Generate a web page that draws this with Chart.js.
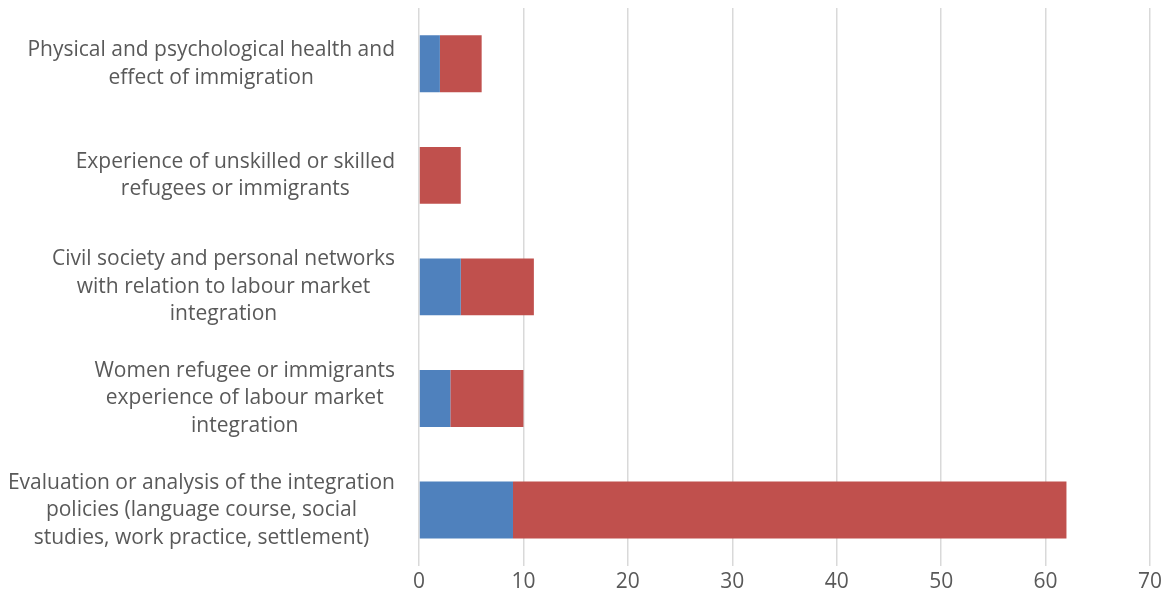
<!DOCTYPE html>
<html>
<head>
<meta charset="utf-8">
<script src="https://cdn.jsdelivr.net/npm/chart.js@4"></script>
<style>
  html, body { margin: 0; padding: 0; background: #fff; }
  #wrap { width: 1168px; height: 608px; }
</style>
</head>
<body>
<div id="wrap"><canvas id="c"></canvas></div>
<script>
const categories = [
  ["Physical and psychological health and", "effect of immigration"],
  ["Experience of unskilled or skilled", "refugees or immigrants"],
  ["Civil society and personal networks", "with relation to labour market", "integration"],
  ["Women refugee or immigrants", "experience of labour market", "integration"],
  ["Evaluation or analysis of the integration", "policies (language course, social", "studies, work practice, settlement)"]
];
const seriesBlue = [2, 0, 4, 3, 9];
const seriesRed = [4, 4, 7, 7, 53];
const xTicks = [0, 10, 20, 30, 40, 50, 60, 70];

const FONT = '"Open Sans", Lato, sans-serif';
const FONT_SIZE = 21;
const TEXT_COLOR = '#595959';

const labelPlugin = {
  id: 'blockLabels',
  afterDraw(chart) {
    const ctx = chart.ctx;
    const y = chart.scales.y;
    const rightEdge = chart.chartArea.left - 24;
    const lh = 27.5;
    ctx.save();
    ctx.font = FONT_SIZE + 'px ' + FONT;
    ctx.fillStyle = TEXT_COLOR;
    ctx.textBaseline = 'middle';
    ctx.textAlign = 'center';
    categories.forEach((lines, i) => {
      const cy = y.getPixelForValue(i);
      const widest = Math.max(...lines.map(l => ctx.measureText(l).width));
      const cx = rightEdge - widest / 2;
      const top = cy - (lines.length - 1) * lh / 2;
      lines.forEach((l, j) => ctx.fillText(l, cx, top + j * lh));
    });
    ctx.restore();
  }
};

new Chart(document.getElementById('c'), {
  type: 'bar',
  data: {
    labels: categories,
    datasets: [
      { label: 'Series 1', data: seriesBlue, backgroundColor: '#4F81BD', borderWidth: 0 },
      { label: 'Series 2', data: seriesRed, backgroundColor: '#C0504D', borderWidth: 0 }
    ]
  },
  options: {
    indexAxis: 'y',
    responsive: true,
    maintainAspectRatio: false,
    animation: false,
    layout: { padding: { top: 8, right: 18, bottom: 9, left: 0 } },
    plugins: { legend: { display: false }, tooltip: { enabled: false } },
    scales: {
      x: {
        stacked: true,
        min: 0, max: 70,
        afterBuildTicks(scale) { scale.ticks = xTicks.map(v => ({ value: v })); },
        grid: { color: '#d9d9d9', lineWidth: 1.5, drawTicks: false },
        border: { display: false },
        ticks: { color: TEXT_COLOR, font: { family: FONT, size: FONT_SIZE }, padding: 4 }
      },
      y: {
        stacked: true,
        grid: { display: false },
        border: { display: false },
        ticks: { display: false },
        afterFit(scale) { scale.width = 419; }
      }
    },
    datasets: { bar: { categoryPercentage: 0.51, barPercentage: 1 } }
  },
  plugins: [labelPlugin]
});
</script>
</body>
</html>
